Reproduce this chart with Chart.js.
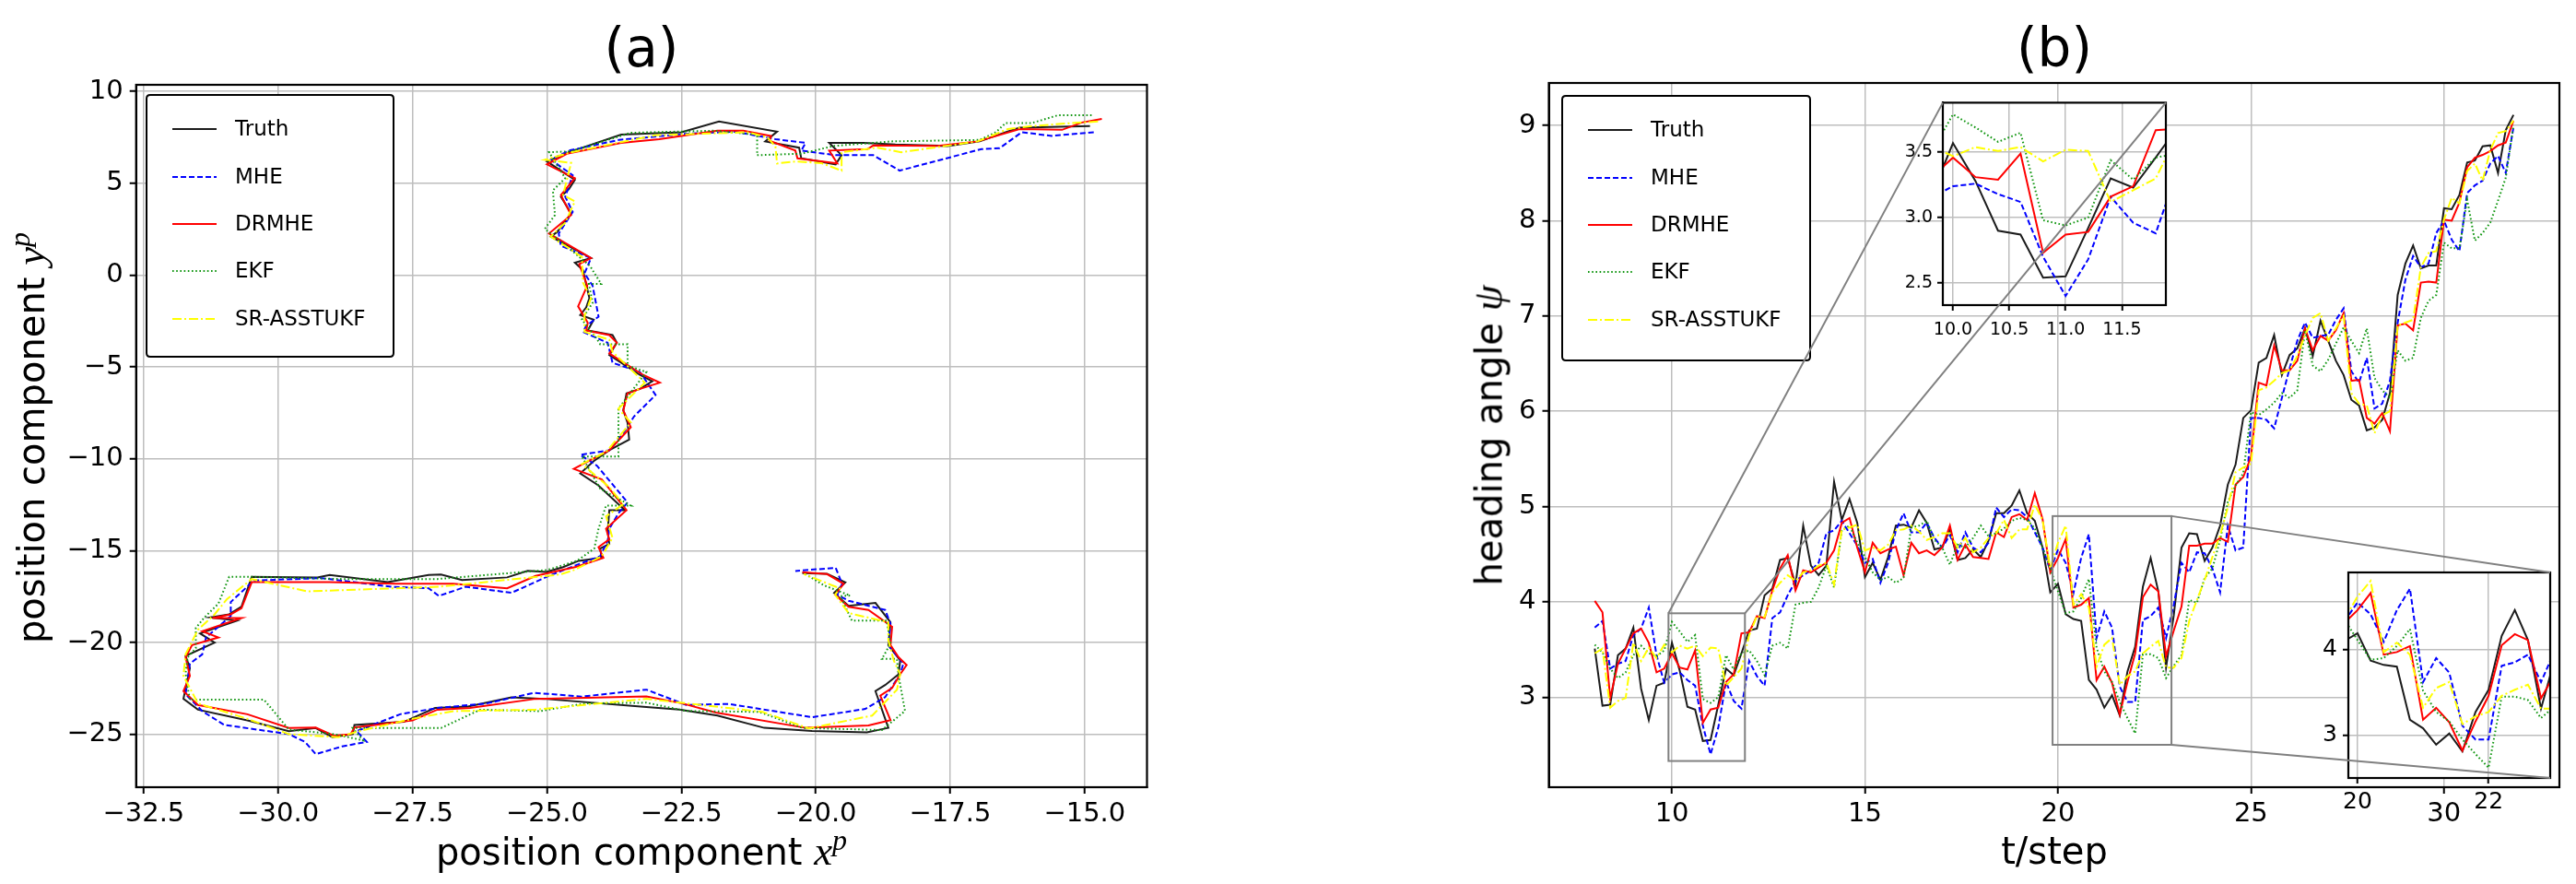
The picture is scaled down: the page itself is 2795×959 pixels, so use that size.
<!DOCTYPE html>
<html><head><meta charset="utf-8">
<script src="https://cdn.jsdelivr.net/npm/chart.js@4.4.1/dist/chart.umd.min.js"></script>
<style>
html,body{margin:0;padding:0;background:#fff;}
body{width:2795px;height:959px;position:relative;overflow:hidden;font-family:"DejaVu Sans",sans-serif;}
canvas{position:absolute;}
.lbl{position:absolute;white-space:nowrap;color:#000;font-family:"DejaVu Sans",sans-serif;text-align:center;z-index:20;}
.m{font-family:"Liberation Serif","DejaVu Serif",serif;font-style:italic;font-size:1.12em;}
.sp{font-family:"Liberation Serif","DejaVu Serif",serif;font-style:italic;font-size:0.8em;position:relative;top:-0.5em;}
</style></head><body>
<canvas id="ca" style="left:0px;top:0px;z-index:1"></canvas>
<canvas id="cb" style="left:1350px;top:0px;z-index:1"></canvas>
<canvas id="ci1" style="left:2040px;top:95px;z-index:2"></canvas>
<canvas id="ci2" style="left:2495px;top:600px;z-index:2"></canvas>
<canvas id="ov" style="left:0px;top:0px;z-index:5;pointer-events:none"></canvas>

<div class="lbl" style="left:196px;width:1000px;top:23px;font-size:58px;line-height:58px;">(a)</div>
<div class="lbl" style="left:1729px;width:1000px;top:23px;font-size:58px;line-height:58px;">(b)</div>
<div class="lbl" style="left:196px;width:1000px;top:903px;font-size:40px;line-height:40px;">position component <span class="m">x</span><span class="sp">p</span></div>
<div class="lbl" style="left:1729px;width:1000px;top:903px;font-size:40px;line-height:40px;">t/step</div>
<div class="lbl" style="left:-365px;width:800px;top:453px;font-size:40px;line-height:40px;transform:rotate(-90deg);">position component <span class="m">y</span><span class="sp">p</span></div>
<div class="lbl" style="left:1215px;width:800px;top:452px;font-size:40px;line-height:40px;transform:rotate(-90deg);">heading angle <span class="m">ψ</span></div>

<script>
// ---------------- DATA: panel (a) trajectories ----------------
const truthX = [-14.90,-16.21,-16.47,-16.95,-17.55,-18.52,-19.11,-19.75,-19.52,-19.63,
-20.27,-20.31,-20.94,-20.72,-21.80,-22.50,-23.62,-24.59,-25.00,-24.48,
-24.59,-24.74,-24.55,-24.81,-24.93,-24.18,-24.48,-24.33,-24.21,-24.27,
-24.38,-24.13,-24.24,-23.78,-23.70,-23.84,-23.27,-23.04,-23.27,-23.52,
-23.58,-23.50,-23.47,-23.84,-24.13,-24.38,-24.04,-23.55,-23.84,-23.87,
-23.84,-24.01,-23.98,-24.41,-24.70,-25.01,-25.36,-25.74,-26.58,-26.97,
-27.20,-27.96,-29.04,-29.27,-30.49,-30.68,-30.91,-31.26,-30.76,-31.45,
-31.18,-31.72,-31.64,-31.76,-31.49,-30.57,-29.80,-29.30,-28.99,-28.61,
-28.58,-27.66,-27.08,-26.47,-25.66,-25.05,-23.15,-22.54,-21.83,-20.96,
-20.07,-19.05,-18.65,-18.89,-18.71,-18.46,-18.43,-18.65,-18.61,-18.89,
-19.39,-19.66,-19.45,-19.79,-20.25];
const truthY = [8.11,8.03,7.78,7.28,7.03,7.11,7.20,7.20,6.53,6.03,
6.36,6.94,7.28,7.81,8.36,7.78,7.65,6.69,6.19,5.19,
4.69,4.27,3.36,2.35,2.10,0.93,0.68,0.27,-1.25,-1.76,
-2.17,-2.42,-3.01,-3.26,-3.68,-4.35,-5.43,-5.77,-6.19,-6.44,
-7.36,-8.03,-8.95,-9.53,-10.12,-10.79,-11.45,-12.79,-12.79,-13.96,
-14.63,-14.88,-15.38,-15.55,-15.89,-16.15,-16.09,-16.45,-16.59,-16.29,
-16.32,-16.71,-16.32,-16.45,-16.42,-18.04,-18.46,-18.63,-18.80,-19.50,
-20.00,-20.72,-21.39,-23.06,-23.65,-24.23,-24.82,-24.65,-25.15,-24.98,
-24.48,-24.31,-23.56,-23.48,-22.98,-23.06,-23.51,-23.64,-23.97,-24.64,
-24.81,-24.89,-24.64,-22.64,-22.31,-21.72,-20.97,-20.14,-18.89,-17.84,
-18.00,-17.30,-16.72,-16.25,-16.22];

const mheX = [-14.83,-15.61,-16.17,-16.58,-16.92,-18.44,-18.93,-19.63,-20.27,-20.19,
-20.75,-21.50,-22.39,-23.66,-24.59,-24.93,-24.52,-24.66,-24.52,-24.78,
-24.74,-24.18,-24.30,-24.15,-24.04,-24.27,-24.33,-23.87,-23.78,-23.27,
-22.98,-23.38,-23.58,-23.84,-24.38,-24.07,-23.50,-23.67,-23.84,-23.87,
-24.01,-24.47,-24.98,-25.66,-26.51,-27.01,-27.20,-27.89,-29.19,-30.45,
-30.88,-30.88,-31.34,-31.41,-31.64,-31.72,-31.41,-31.00,-29.80,-29.50,
-29.30,-28.81,-28.35,-28.54,-27.73,-27.04,-26.12,-25.24,-24.36,-23.15,
-22.41,-21.61,-20.07,-19.08,-18.71,-18.43,-18.37,-18.65,-18.61,-18.71,
-19.39,-19.60,-19.51,-19.63,-20.38];
const mheY = [7.78,7.58,7.78,6.91,6.86,5.69,6.53,6.53,6.78,7.20,
7.40,7.81,7.70,7.36,6.78,6.28,5.44,4.27,3.44,2.27,
1.60,0.93,0.10,-0.58,-2.26,-2.76,-3.09,-3.68,-4.77,-5.27,
-6.52,-7.69,-8.61,-9.53,-9.78,-10.37,-12.37,-12.96,-13.80,-14.46,
-15.30,-15.80,-16.39,-17.29,-16.96,-17.46,-17.04,-16.96,-16.49,-16.62,
-17.79,-18.55,-19.72,-20.64,-21.14,-22.81,-23.73,-24.48,-24.98,-25.40,
-26.07,-25.65,-25.40,-24.82,-23.90,-23.56,-23.31,-22.73,-22.94,-22.56,
-23.39,-23.34,-24.06,-23.61,-22.97,-21.72,-21.14,-20.14,-18.97,-18.22,
-17.72,-17.39,-16.80,-15.93,-16.10];

const drmheX = [-14.68,-15.05,-15.42,-16.21,-16.99,-17.77,-18.93,-19.04,-19.75,-19.60,
-20.34,-20.38,-20.86,-20.83,-21.35,-21.83,-22.91,-23.62,-24.63,-25.00,
-24.48,-24.74,-24.55,-24.96,-24.18,-24.40,-24.25,-24.42,-24.24,-24.27,
-23.84,-23.70,-23.84,-23.21,-22.90,-23.27,-23.50,-23.58,-23.44,-23.84,
-24.50,-23.98,-23.52,-23.90,-23.84,-24.04,-23.95,-24.44,-25.21,-25.74,
-26.74,-27.81,-29.04,-30.49,-30.68,-30.88,-31.22,-30.68,-31.41,-31.11,
-31.60,-31.72,-31.64,-31.76,-31.49,-30.57,-29.80,-29.30,-28.96,-28.65,
-28.58,-27.50,-27.04,-26.43,-25.21,-23.15,-22.48,-21.86,-20.19,-19.02,
-18.61,-18.80,-18.58,-18.43,-18.31,-18.46,-18.61,-18.58,-19.02,-19.39,
-19.64,-19.48,-19.79,-20.25];
const drmheY = [8.50,8.31,7.91,7.95,7.28,7.03,7.06,6.86,6.78,6.08,
6.36,6.78,7.32,7.57,7.86,7.86,7.40,7.20,6.61,6.03,
5.28,4.36,3.27,2.27,0.93,0.60,-0.57,-1.70,-2.59,-3.01,
-3.26,-3.68,-4.26,-5.43,-5.85,-6.19,-6.44,-7.36,-8.28,-9.53,
-10.54,-11.12,-12.79,-13.80,-14.38,-14.80,-15.38,-15.87,-16.37,-17.04,
-16.79,-16.79,-16.71,-16.71,-18.13,-18.46,-18.66,-18.66,-19.38,-19.72,
-20.13,-20.80,-21.81,-22.64,-23.39,-23.90,-24.65,-24.62,-25.07,-24.98,
-24.62,-24.23,-23.65,-23.56,-23.06,-22.93,-23.31,-23.81,-24.64,-24.51,
-24.22,-22.89,-22.47,-21.72,-21.22,-20.80,-20.14,-19.14,-18.22,-18.05,
-17.39,-16.80,-16.27,-16.17];

const ekfX = [-14.87,-15.50,-15.98,-16.47,-16.65,-16.95,-18.59,-19.67,-20.27,-21.09,
-21.09,-21.91,-23.44,-24.55,-24.96,-24.66,-24.89,-24.85,-25.04,-24.60,
-24.20,-23.99,-24.22,-24.15,-24.35,-24.10,-24.01,-23.50,-23.50,-23.15,
-23.50,-23.67,-23.67,-24.35,-24.01,-23.44,-23.90,-24.04,-24.12,-24.44,
-25.00,-27.04,-28.81,-30.49,-30.91,-31.11,-31.37,-31.53,-31.53,-31.68,
-31.72,-31.68,-31.64,-30.26,-29.80,-28.96,-28.42,-28.61,-26.97,-26.24,
-25.13,-24.29,-23.15,-22.41,-21.05,-20.25,-18.77,-18.34,-18.46,-18.49,
-18.77,-18.61,-18.68,-19.33,-19.54,-19.36,-19.85,-20.22];
const ekfY = [8.70,8.70,8.28,8.28,7.78,7.36,7.28,7.03,6.61,6.53,
7.65,7.86,7.75,6.74,6.69,5.28,4.61,3.27,2.52,1.50,
0.50,-0.48,-0.48,-1.50,-2.42,-3.34,-3.76,-3.76,-4.93,-5.27,
-6.61,-7.27,-9.87,-9.87,-11.62,-12.54,-12.54,-13.80,-14.88,-15.55,
-16.05,-16.54,-16.54,-16.42,-16.42,-17.88,-18.63,-19.21,-20.30,-20.80,
-21.64,-22.47,-23.11,-23.11,-24.73,-24.98,-25.32,-24.65,-24.65,-23.65,
-23.73,-23.31,-23.27,-23.72,-23.77,-24.64,-24.76,-23.72,-21.81,-20.89,
-20.89,-20.05,-18.80,-18.80,-17.47,-17.44,-16.88,-16.22];

const srX = [-14.75,-15.24,-15.98,-16.43,-16.99,-18.41,-18.85,-19.52,-19.52,-19.90,
-20.38,-20.72,-20.75,-20.90,-21.27,-22.99,-24.55,-25.04,-24.55,-24.70,
-24.48,-24.66,-24.93,-24.35,-24.33,-24.18,-24.30,-24.30,-23.84,-23.78,
-23.18,-23.67,-23.44,-23.90,-24.35,-23.84,-23.58,-23.90,-23.78,-23.98,
-24.50,-24.75,-27.01,-29.46,-30.49,-30.95,-31.18,-31.49,-31.72,-31.76,
-31.49,-30.57,-29.80,-28.88,-28.50,-27.50,-26.74,-25.21,-23.15,-20.99,
-20.13,-18.95,-18.49,-18.43,-18.55,-18.65,-18.65,-19.39,-19.64,-19.55,
-20.22];
const srY = [8.36,8.28,8.11,7.95,7.28,6.69,6.94,6.69,5.69,6.10,
6.19,6.08,7.00,7.50,7.78,7.61,6.69,6.28,6.11,4.36,
4.02,2.85,2.10,1.00,-0.40,-1.24,-2.20,-3.09,-3.51,-4.18,
-5.85,-7.27,-8.03,-9.62,-10.28,-11.54,-12.46,-13.13,-14.30,-15.30,
-16.05,-16.29,-16.96,-17.21,-16.54,-17.63,-18.46,-19.30,-20.64,-21.81,
-23.31,-24.15,-24.98,-25.15,-24.82,-24.15,-23.73,-23.65,-23.06,-23.77,
-24.67,-23.97,-22.56,-21.72,-20.97,-19.89,-18.89,-18.39,-17.39,-17.05,
-16.27];

// ---------------- DATA: panel (b) heading angle ----------------
const tStep = [8.0,8.2,8.4,8.6,8.8,9.0,9.2,9.4,9.6,9.8,
10.0,10.2,10.4,10.6,10.8,11.0,11.2,11.4,11.6,11.8,
12.0,12.2,12.4,12.6,12.8,13.0,13.2,13.4,13.6,13.8,
14.0,14.2,14.4,14.6,14.8,15.0,15.2,15.4,15.6,15.8,
16.0,16.2,16.4,16.6,16.8,17.0,17.2,17.4,17.6,17.8,
18.0,18.2,18.4,18.6,18.8,19.0,19.2,19.4,19.6,19.8,
20.0,20.2,20.4,20.6,20.8,21.0,21.2,21.4,21.6,21.8,
22.0,22.2,22.4,22.6,22.8,23.0,23.2,23.4,23.6,23.8,
24.0,24.2,24.4,24.6,24.8,25.0,25.2,25.4,25.6,25.8,
26.0,26.2,26.4,26.6,26.8,27.0,27.2,27.4,27.6,27.8,
28.0,28.2,28.4,28.6,28.8,29.0,29.2,29.4,29.6,29.8,
30.0,30.2,30.4,30.6,30.8,31.0,31.2,31.4,31.6,31.8];
const truthPsi = [3.51,2.91,2.92,3.44,3.51,3.73,3.09,2.76,3.12,3.15,
3.57,3.28,2.90,2.87,2.54,2.55,2.92,3.30,3.23,3.46,
3.70,3.72,4.07,4.14,4.44,4.46,4.18,4.80,4.38,4.28,
4.38,5.26,4.86,5.08,4.83,4.26,4.41,4.23,4.47,4.80,
4.81,4.78,4.96,4.83,4.55,4.57,4.76,4.44,4.46,4.55,
4.47,4.64,4.93,4.93,5.01,5.17,4.93,4.85,4.57,4.10,
4.19,3.87,3.82,3.80,3.18,3.08,2.89,3.02,2.81,3.27,
3.53,4.16,4.46,4.11,3.31,3.86,4.57,4.72,4.71,4.43,
4.57,4.80,5.23,5.44,5.93,6.01,6.51,6.56,6.80,6.38,
6.59,6.66,6.87,6.58,6.95,6.74,6.53,6.38,6.12,6.06,
5.80,5.83,5.91,6.19,7.22,7.55,7.74,7.50,7.53,7.53,
8.13,8.12,8.27,8.61,8.63,8.78,8.79,8.50,8.95,9.11];
const mhePsi = [3.73,3.80,3.30,3.35,3.38,3.65,3.72,3.94,3.44,3.15,
3.24,3.26,3.18,3.12,2.70,2.40,2.68,3.16,2.96,2.88,
3.38,3.22,3.12,3.83,3.89,4.07,4.22,4.28,4.33,4.41,
4.72,4.75,4.85,4.72,4.59,4.41,4.45,4.20,4.41,4.75,
4.93,4.73,4.73,4.83,4.67,4.57,4.70,4.52,4.73,4.57,
4.52,4.62,4.99,4.89,4.97,4.96,4.89,4.73,4.57,4.33,
4.55,4.41,4.09,4.46,4.71,3.62,3.90,3.73,3.11,2.95,
2.95,3.81,3.85,3.94,3.62,3.97,4.41,4.31,4.52,4.51,
4.35,4.10,4.80,4.54,4.57,5.93,5.93,5.91,5.82,6.14,
6.45,6.74,6.93,6.77,6.79,6.80,6.96,7.08,6.42,6.30,
6.56,6.03,6.08,6.32,6.93,7.38,7.63,7.51,7.55,7.87,
8.00,7.80,7.68,8.29,8.37,8.42,8.60,8.68,8.50,8.98];
const drmhePsi = [4.01,3.89,2.99,3.35,3.51,3.67,3.72,3.57,3.26,3.30,
3.46,3.31,3.29,3.49,2.73,2.87,2.89,3.16,3.24,3.67,
3.68,3.85,3.83,4.12,4.35,4.49,4.12,4.33,4.31,4.36,
4.41,4.54,4.83,4.88,4.57,4.31,4.62,4.51,4.55,4.58,
4.28,4.62,4.51,4.54,4.49,4.57,4.80,4.44,4.60,4.47,
4.46,4.45,4.73,4.68,4.89,4.92,4.86,5.14,4.87,4.31,
4.46,4.66,3.94,3.97,4.04,3.18,3.32,3.15,2.82,3.16,
3.46,4.05,4.18,4.11,3.43,3.70,3.95,4.59,4.59,4.61,
4.61,4.67,4.63,5.23,5.31,5.52,6.30,6.27,6.69,6.43,
6.43,6.53,6.87,6.64,6.79,6.74,6.85,7.03,6.32,6.33,
5.93,5.87,5.98,5.79,6.90,6.92,6.85,7.35,7.36,7.35,
8.01,8.00,8.19,8.56,8.66,8.69,8.73,8.79,8.82,9.05];
const ekfPsi = [3.55,3.47,3.30,3.20,3.26,3.44,3.54,3.46,3.43,3.49,
3.79,3.69,3.58,3.65,2.98,2.94,3.00,3.44,3.29,3.46,
3.49,3.38,3.23,3.54,3.57,3.51,3.97,3.99,4.00,4.15,
4.38,4.15,4.75,4.80,4.62,4.47,4.31,4.23,4.26,4.20,
4.25,4.78,4.80,4.85,4.65,4.57,4.39,4.60,4.57,4.67,
4.80,4.69,4.72,4.77,4.85,4.88,4.86,4.77,4.57,4.35,
4.11,3.88,3.90,4.04,4.24,3.52,3.27,3.16,2.95,2.78,
2.62,3.45,3.45,3.41,3.20,3.33,3.44,4.02,3.99,4.25,
4.35,4.65,5.05,5.22,5.35,5.99,5.96,6.02,6.09,6.19,
6.14,6.22,6.85,6.48,6.42,6.54,6.71,6.88,6.74,6.61,
6.87,6.35,6.22,6.14,6.64,6.53,6.56,6.98,7.16,7.22,
7.77,7.71,7.71,8.22,7.79,7.87,7.98,8.21,8.45,9.00];
const srPsi = [3.46,3.51,2.89,2.96,2.99,3.57,3.38,3.52,3.41,3.55,
3.47,3.54,3.51,3.54,3.43,3.52,3.51,3.12,3.21,3.30,
3.65,3.85,3.84,4.10,4.20,4.28,4.22,4.31,4.33,4.38,
4.41,4.18,4.76,4.78,4.81,4.54,4.57,4.54,4.60,4.75,
4.76,4.80,4.74,4.65,4.68,4.72,4.72,4.57,4.67,4.52,
4.57,4.67,4.72,4.86,4.67,4.76,4.76,5.02,4.86,4.35,
4.62,4.80,3.97,4.08,3.94,3.32,3.55,3.62,3.13,3.22,
3.27,3.46,3.53,3.59,3.31,3.31,3.41,3.80,4.02,4.23,
4.47,4.70,4.99,5.36,5.41,5.45,6.22,6.25,6.32,6.40,
6.43,6.58,6.80,6.98,7.03,6.74,6.87,7.00,6.19,6.08,
6.06,5.77,5.96,6.00,6.90,6.93,6.96,7.51,7.66,7.68,
8.01,8.24,8.18,8.52,8.60,8.42,8.74,8.92,8.94,9.05];

// ---------------- tick values & axis limits ----------------
const seriesNames = ['Truth','MHE','DRMHE','EKF','SR-ASSTUKF'];
const aXTicks = [-32.5,-30,-27.5,-25,-22.5,-20,-17.5,-15];
const aYTicks = [-25,-20,-15,-10,-5,0,5,10];
const bXTicks = [10,15,20,25,30];
const bYTicks = [3,4,5,6,7,8,9];
const i1XTicks = [10,10.5,11,11.5];
const i1YTicks = [2.5,3,3.5];
const i2XTicks = [20,22];
const i2YTicks = [3,4];
const aXLim = [-32.64,-13.84], aYLim = [-27.87,10.36];
const bXLim = [6.81,32.99],   bYLim = [2.055,9.445];
const i1XLim = [9.91,11.89],  i1YLim = [2.33,3.88];
const i2XLim = [19.86,22.94], i2YLim = [2.5,4.9];

// ---------------- styles ----------------
const styles = [
  {color:'#1c1c1c', dash:[],          width:2},
  {color:'#0000ff', dash:[6,3],       width:2},
  {color:'#ff0000', dash:[],          width:2},
  {color:'#119611', dash:[1.6,2.6],   width:2},
  {color:'#ffff00', dash:[10,3,2,3],  width:2}
];
const minus = v => (v < 0 ? '\u2212' : '') + Math.abs(v);
const fmt1 = v => (v < 0 ? '\u2212' : '') + Math.abs(v).toFixed(1);

function pts(xs, ys){ return xs.map((x,i)=>({x:x, y:ys[i]})); }
function makeDatasets(pairs){
  return pairs.map((p,i)=>({
    label: seriesNames[i], data: pts(p[0],p[1]),
    borderColor: styles[i].color, backgroundColor: styles[i].color,
    borderDash: styles[i].dash, borderWidth: styles[i].width,
    pointRadius:0, showLine:true, tension:0, fill:false, order: 4 - i
  }));
}
function axis(lim, ticks, fmt, fs, isX, size, pad, tl){
  return {
    type:'linear', min:lim[0], max:lim[1],
    afterBuildTicks: s => { s.ticks = ticks.map(v=>({value:v})); },
    afterFit: s => { if(isX) s.height = size; else s.width = size; },
    grid:{color:'#bebebe', lineWidth:1.5, drawTicks:true, tickLength:tl || 7, tickColor:'#000', tickWidth:2},
    border:{display:true, color:'#000', width:2},
    ticks:{color:'#000', font:{family:'DejaVu Sans', size:fs}, padding:pad, callback:fmt,
           autoSkip:false, maxRotation:0, minRotation:0}
  };
}
function framePlugin(rects, fillWhite){
  return {
    id:'frame',
    beforeDraw(chart){
      if(!fillWhite) return;
      const a = chart.chartArea, c = chart.ctx;
      c.save(); c.fillStyle = '#fff'; c.fillRect(a.left, a.top, a.right-a.left, a.bottom-a.top); c.restore();
    },
    afterDatasetsDraw(chart){
      const a = chart.chartArea, c = chart.ctx, xs = chart.scales.x, ys = chart.scales.y;
      c.save();
      rects.forEach(r => {
        const x0 = xs.getPixelForValue(r[0]), x1 = xs.getPixelForValue(r[1]);
        const y0 = ys.getPixelForValue(r[3]), y1 = ys.getPixelForValue(r[2]);
        c.strokeStyle = '#808080'; c.lineWidth = 2; c.setLineDash([]);
        c.strokeRect(x0, y0, x1-x0, y1-y0);
      });
      c.strokeStyle = '#000'; c.lineWidth = 2.2; c.setLineDash([]);
      c.strokeRect(a.left, a.top, a.right-a.left, a.bottom-a.top);
      c.restore();
    }
  };
}
function legendPlugin(box){
  return {
    id:'mplLegend',
    afterDraw(chart){
      const c = chart.ctx, [x0,y0,w,h] = box, r = 4;
      c.save();
      c.beginPath();
      c.moveTo(x0+r,y0); c.lineTo(x0+w-r,y0); c.quadraticCurveTo(x0+w,y0,x0+w,y0+r);
      c.lineTo(x0+w,y0+h-r); c.quadraticCurveTo(x0+w,y0+h,x0+w-r,y0+h);
      c.lineTo(x0+r,y0+h); c.quadraticCurveTo(x0,y0+h,x0,y0+h-r);
      c.lineTo(x0,y0+r); c.quadraticCurveTo(x0,y0,x0+r,y0); c.closePath();
      c.fillStyle = '#fff'; c.fill();
      c.strokeStyle = '#000'; c.lineWidth = 2; c.stroke();
      const rows = [37, 89, 140, 191, 243];
      chart.data.datasets.forEach((ds,i) => {
        const y = y0 + rows[i];
        c.beginPath(); c.setLineDash(ds.borderDash || []);
        c.strokeStyle = ds.borderColor; c.lineWidth = ds.borderWidth;
        c.moveTo(x0+28, y); c.lineTo(x0+76, y); c.stroke();
        c.setLineDash([]);
        c.fillStyle = '#000'; c.font = '23px "DejaVu Sans"'; c.textBaseline = 'middle'; c.textAlign = 'left';
        c.fillText(ds.label, x0+96, y+1);
      });
      c.restore();
    }
  };
}
function setSize(id, w, h){ const el = document.getElementById(id); el.width = w; el.height = h; el.style.width = w+'px'; el.style.height = h+'px'; return el; }

const common = {responsive:false, animation:false, events:[], devicePixelRatio:1,
  plugins:{legend:{display:false}, tooltip:{enabled:false}}};

// ---------------- panel (a) ----------------
const ca = setSize('ca', 1300, 959);
const chartA = new Chart(ca, {
  type:'scatter',
  data:{datasets: makeDatasets([[truthX,truthY],[mheX,mheY],[drmheX,drmheY],[ekfX,ekfY],[srX,srY]])},
  options:Object.assign({}, common, {
    layout:{padding:{left:0, right:55.5, top:92, bottom:0}},
    scales:{
      x: axis(aXLim, aXTicks, fmt1, 29, true, 105, 5),
      y: axis(aYLim, aYTicks, minus, 29, false, 147.7, 7)
    }
  }),
  plugins:[framePlugin([], false), legendPlugin([159,103,268,284])]
});

// ---------------- panel (b) ----------------
const bPairs = [[tStep,truthPsi],[tStep,mhePsi],[tStep,drmhePsi],[tStep,ekfPsi],[tStep,srPsi]];
const cb = setSize('cb', 1445, 959);
const chartB = new Chart(cb, {
  type:'line',
  data:{datasets: makeDatasets(bPairs)},
  options:Object.assign({}, common, {
    layout:{padding:{left:0, right:18, top:90, bottom:0}},
    scales:{
      x: axis(bXLim, bXTicks, minus, 29, true, 105, 5),
      y: axis(bYLim, bYTicks, minus, 29, false, 330.5, 7)
    }
  }),
  plugins:[framePlugin([[i1XLim[0],i1XLim[1],i1YLim[0],i1YLim[1]],[i2XLim[0],i2XLim[1],i2YLim[0],i2YLim[1]]], false),
           legendPlugin([1695-1350,104,269,287])]
});

// ---------------- insets ----------------
const ci1 = setSize('ci1', 320, 290);
const chartI1 = new Chart(ci1, {
  type:'line',
  data:{datasets: makeDatasets(bPairs)},
  options:Object.assign({}, common, {
    layout:{padding:{left:0, right:10, top:7, bottom:0}},
    scales:{
      x: axis(i1XLim, i1XTicks, fmt1, 19, true, 54, 10, 6),
      y: axis(i1YLim, i1YTicks, fmt1, 19, false, 68, 5, 6)
    }
  }),
  plugins:[framePlugin([], true)]
});
const ci2 = setSize('ci2', 285, 295);
const chartI2 = new Chart(ci2, {
  type:'line',
  data:{datasets: makeDatasets(bPairs)},
  options:Object.assign({}, common, {
    layout:{padding:{left:0, right:13, top:15, bottom:0}},
    scales:{
      x: axis(i2XLim, i2XTicks, minus, 25, true, 51, 5, 6),
      y: axis(i2YLim, i2YTicks, minus, 25, false, 53, 6, 6)
    }
  }),
  plugins:[framePlugin([], true)]
});

// ---------------- connector lines (mark_inset) ----------------
const ov = setSize('ov', 2795, 959);
(function drawConnectors(){
  const c = ov.getContext('2d');
  const bx = 1350, by = 0;
  const px = v => chartB.scales.x.getPixelForValue(v) + bx;
  const py = v => chartB.scales.y.getPixelForValue(v) + by;
  const a1 = chartI1.chartArea, o1 = [2040, 95];
  const a2 = chartI2.chartArea, o2 = [2495, 600];
  const lines = [
    [px(i1XLim[0]), py(i1YLim[1]), a1.left+o1[0], a1.top+o1[1]],
    [px(i1XLim[1]), py(i1YLim[1]), a1.right+o1[0], a1.top+o1[1]],
    [px(i2XLim[1]), py(i2YLim[1]), a2.right+o2[0], a2.top+o2[1]],
    [px(i2XLim[1]), py(i2YLim[0]), a2.right+o2[0], a2.bottom+o2[1]]
  ];
  c.strokeStyle = '#808080'; c.lineWidth = 2;
  lines.forEach(l => { c.beginPath(); c.moveTo(l[0],l[1]); c.lineTo(l[2],l[3]); c.stroke(); });
})();
</script>
</body></html>
